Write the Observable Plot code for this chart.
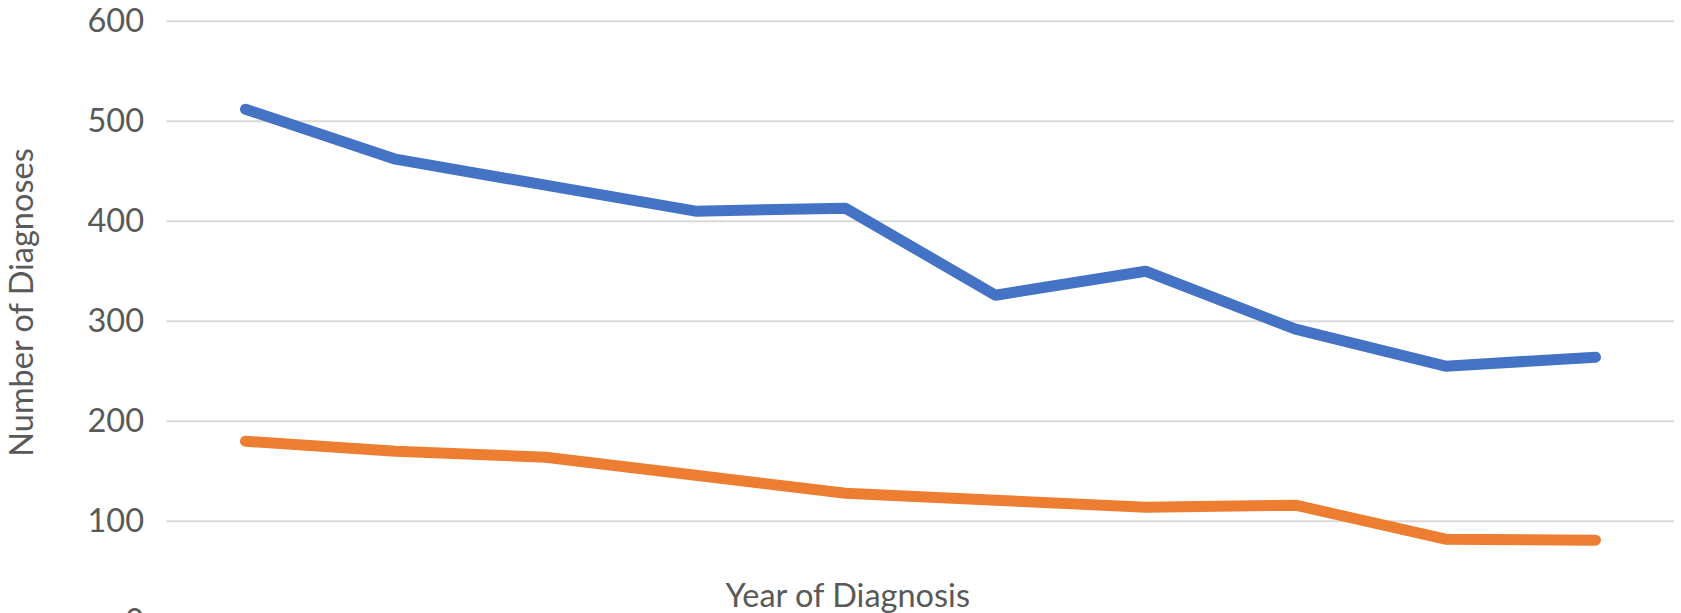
<!DOCTYPE html>
<html>
<head>
<meta charset="utf-8">
<script src="https://cdn.jsdelivr.net/npm/d3@7"></script>
<script src="https://cdn.jsdelivr.net/npm/@observablehq/plot@0.6"></script>
<style>
  html, body { margin: 0; padding: 0; background: #fff; overflow: hidden; }
  #chart svg { display: block; }
</style>
</head>
<body>
<div id="chart"></div>
<script>
// Categories (year labels are cropped out of the reference view)
const years = ["2010", "2011", "2012", "2013", "2014", "2015", "2016", "2017", "2018", "2019"];
// Series values
const seriesA = [512, 462, 436, 410, 413, 326, 350, 292, 255, 264];
const seriesB = [180, 170, 164, 146, 128, 121, 114, 116, 82, 81];
const seriesNames = ["Series 1", "Series 2"];
const yTicks = [0, 100, 200, 300, 400, 500, 600];
const xTitle = "Year of Diagnosis";
const yTitle = "Number of Diagnoses";

const rows = [];
years.forEach((yr, i) => {
  rows.push({year: yr, value: seriesA[i], series: seriesNames[0]});
  rows.push({year: yr, value: seriesB[i], series: seriesNames[1]});
});

const W = 1681, H = 613;
const font = "Lato, 'Open Sans', sans-serif";
const textColor = "#595959";
const fs = 32.5;

const chart = Plot.plot({
  width: W,
  height: H,
  marginLeft: 166.5,
  marginRight: 7,
  marginTop: 0,
  marginBottom: 0,
  style: {fontFamily: font, background: "#fff", overflow: "hidden"},
  x: {type: "point", domain: years, padding: 0.5, axis: null},
  y: {domain: [0, 600], range: [620.7, 20.7], axis: null},
  color: {domain: seriesNames, range: ["#4472C4", "#ED7D31"]},
  marks: [
    Plot.ruleY(yTicks, {stroke: "#D9D9D9", strokeWidth: 2}),
    Plot.axisY({
      ticks: yTicks,
      tickSize: 0,
      tickPadding: 23,
      label: null,
      fontSize: fs,
      color: textColor,
      fill: textColor
    }),
    Plot.line(rows, {
      x: "year",
      y: "value",
      z: "series",
      stroke: "series",
      strokeWidth: 11,
      strokeLinecap: "round",
      strokeLinejoin: "round"
    }),
    Plot.text([xTitle], {
      frameAnchor: "bottom",
      lineAnchor: "bottom",
      textAnchor: "middle",
      dx: -73,
      dy: -7,
      fontSize: fs,
      fill: textColor
    }),
    Plot.text([yTitle], {
      frameAnchor: "left",
      textAnchor: "middle",
      rotate: -90,
      dx: -144.5,
      dy: -4.5,
      fontSize: fs,
      fill: textColor
    })
  ]
});

document.getElementById("chart").appendChild(chart);
</script>
</body>
</html>
